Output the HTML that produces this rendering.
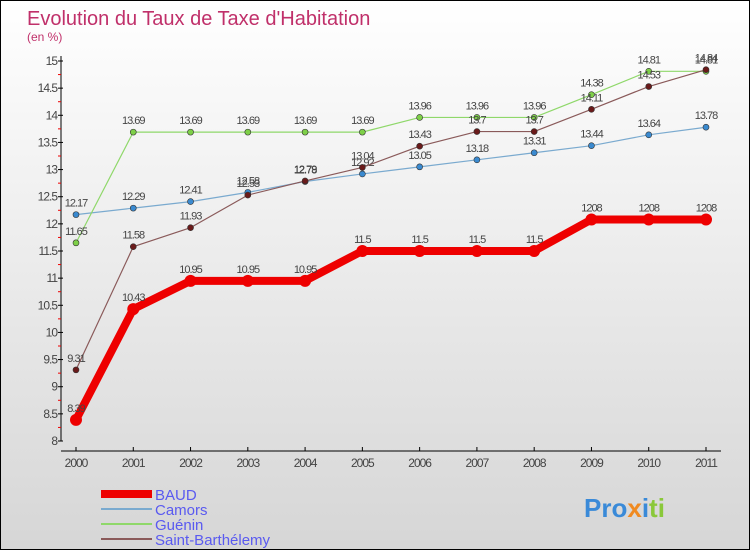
<!DOCTYPE html>
<html><head><meta charset="utf-8"><style>
body{margin:0}
#c{width:750px;height:550px;position:relative;overflow:hidden;box-sizing:border-box;border:1px solid #000;background:linear-gradient(#fff,#d6d6d6);font-family:"Liberation Sans",sans-serif}
</style></head><body>
<div id="c">
<svg id="s" width="750" height="550" style="position:absolute;left:0;top:0">
<text x="26" y="24" font-size="20" fill="#c0306a">Evolution du Taux de Taxe d'Habitation</text>
<text x="26" y="40" font-size="12" fill="#c0306a">(en %)</text>
<g id="axes"></g><g id="series"></g>
<g>
<rect x="100" y="489" width="51" height="8" fill="#e00"/>
<text x="154" y="499" font-size="15" fill="#5a5af0">BAUD</text>
<rect x="100" y="507" width="51" height="2" fill="#7aaacf"/>
<text x="154" y="514" font-size="15" fill="#5a5af0">Camors</text>
<rect x="100" y="522" width="51" height="2" fill="#8fd86a"/>
<text x="154" y="529" font-size="15" fill="#5a5af0">Guénin</text>
<rect x="100" y="537" width="51" height="2" fill="#8a5a5a"/>
<text x="154" y="544" font-size="15" fill="#5a5af0">Saint-Barthélemy</text>
</g>
<text x="583" y="516" font-size="26" font-weight="bold" fill="#3a8ad8">Pro<tspan fill="#f08a20">x</tspan><tspan fill="#3a8ad8">i</tspan><tspan fill="#8ac83a">ti</tspan></text>
</svg>
</div>
<script>
const years=[2000,2001,2002,2003,2004,2005,2006,2007,2008,2009,2010,2011];
const baud=[8.39,10.43,10.95,10.95,10.95,11.5,11.5,11.5,11.5,12.08,12.08,12.08];
const camors=[12.17,12.29,12.41,12.58,12.78,12.92,13.05,13.18,13.31,13.44,13.64,13.78];
const guenin=[11.65,13.69,13.69,13.69,13.69,13.69,13.96,13.96,13.96,14.38,14.81,14.81];
const saintb=[9.31,11.58,11.93,12.53,12.79,13.04,13.43,13.7,13.7,14.11,14.53,14.84];
const yTicks=[8,8.5,9,9.5,10,10.5,11,11.5,12,12.5,13,13.5,14,14.5,15];
const NS="http://www.w3.org/2000/svg";
const X=i=>75+i*(630/11);
const Y=v=>440-(v-8)*(380/7);
function mk(t,a,p){const e=document.createElementNS(NS,t);for(const k in a)e.setAttribute(k,a[k]);p.appendChild(e);return e;}
const ax=document.getElementById('axes');
let l=mk('line',{x1:60,y1:55,x2:60,y2:440,stroke:'#000'},ax);

l=mk('line',{x1:60,y1:450,x2:720,y2:450,stroke:'#000'},ax);

yTicks.forEach((v,i)=>{
 const y=Y(v);
 mk('line',{x1:57,y1:y,x2:62,y2:y,stroke:'#000'},ax);
 if(i<yTicks.length-1)mk('line',{x1:57,y1:Y(v+0.25),x2:60,y2:Y(v+0.25),stroke:'#e00'},ax);
 const t=mk('text',{x:56,y:y+4,'font-size':12,fill:'#444','text-anchor':'end','letter-spacing':'-1'},ax);
 t.textContent=String(v);
 
});
years.forEach((yr,i)=>{
 mk('line',{x1:X(i),y1:446,x2:X(i),y2:450,stroke:'#000'},ax);
 const t=mk('text',{x:X(i),y:466,'font-size':12,fill:'#444','text-anchor':'middle','letter-spacing':'-1'},ax);
 t.textContent=yr;
 
});
const sg=document.getElementById('series');
function series(data,name,color,w,r,dot,lab){
 const g=mk('g',{},sg);
 
 const p=mk('polyline',{points:data.map((v,i)=>X(i)+','+Y(v)).join(' '),fill:'none',stroke:color,'stroke-width':w,'stroke-linejoin':'round'},g);
 
 data.forEach((v,i)=>{
  const c=mk('circle',{cx:X(i),cy:Y(v),r:r,fill:dot,stroke:'#333','stroke-width':w>3?0:0.6},g);
  
  const t=mk('text',{x:X(i),y:Y(v)-8,'font-size':11,fill:'#444','text-anchor':'middle','letter-spacing':'-1'},g);
  t.textContent=String(v).replace('12.08','1208');
  
 });
}
series(camors,'camors','#7aaacf',1.2,3,'#3a8ad0');
series(guenin,'guenin','#8fd86a',1.2,3,'#7ed048');
series(saintb,'saint-barthelemy','#8a5a5a',1.2,3,'#6a1a1a');
series(baud,'baud','#e00',8,6,'#e00');
</script>
</body></html>
